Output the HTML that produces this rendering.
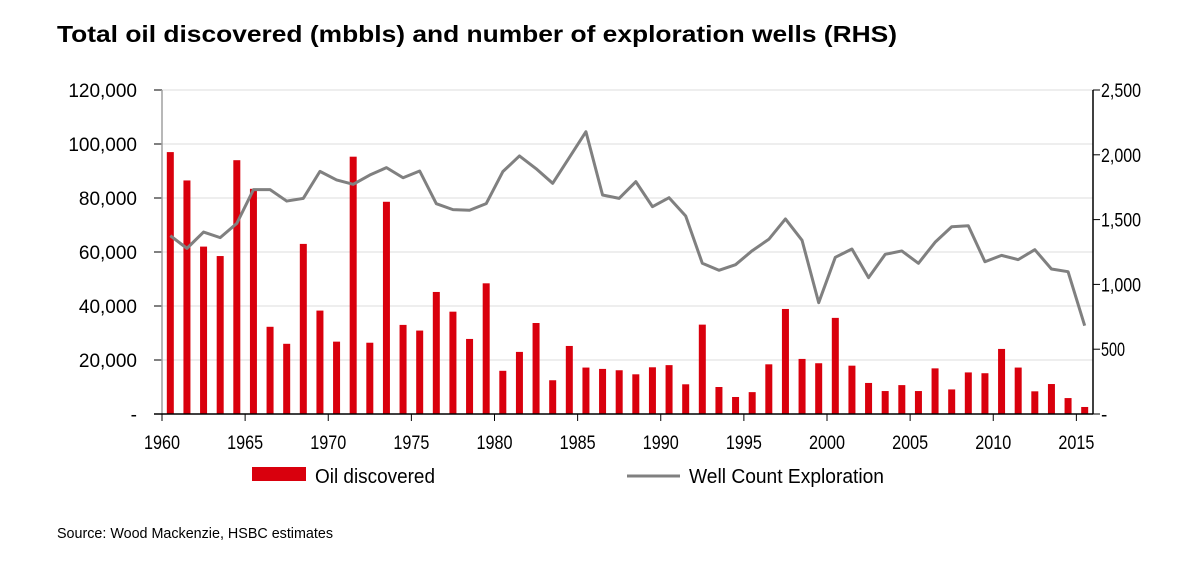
<!DOCTYPE html>
<html><head><meta charset="utf-8"><style>
body{margin:0;background:#fff;width:1200px;height:568px;overflow:hidden}
svg text{font-family:"Liberation Sans Narrow","Liberation Sans",sans-serif}
</style></head><body>
<svg id="c" width="1200" height="568">
<text x="57" y="42" font-size="23" font-weight="bold" fill="#000" textLength="840" lengthAdjust="spacingAndGlyphs" style="font-family:'Liberation Sans',sans-serif">Total oil discovered (mbbls) and number of exploration wells (RHS)</text>
<g id="grid"></g><g id="bars"></g><g id="line"></g><g id="axes"></g>
<g>
<rect x="252" y="467" width="54" height="14" fill="#d9000d"/>
<text x="315" y="483" font-size="20" textLength="120" lengthAdjust="spacingAndGlyphs">Oil discovered</text>
<line x1="627" y1="476" x2="680" y2="476" stroke="#808080" stroke-width="3"/>
<text x="689" y="483" font-size="20" textLength="195" lengthAdjust="spacingAndGlyphs">Well Count Exploration</text>
</g>
<text x="57" y="538" font-size="15" textLength="276" lengthAdjust="spacingAndGlyphs">Source: Wood Mackenzie, HSBC estimates</text>
</svg>
<script>
const years=[];for(let y=1960;y<=2015;y++)years.push(y);
const oil=[97,86.5,62,58.5,94,83.4,32.3,26,63,38.3,26.8,95.3,26.4,78.6,33,30.9,45.2,37.9,27.8,48.4,16,23,33.7,12.5,25.2,17.2,16.7,16.2,14.7,17.3,18.1,11,33.1,10,6.3,8.1,18.4,38.9,20.4,18.8,35.6,17.9,11.5,8.5,10.7,8.5,16.9,9.1,15.4,15.1,24.1,17.2,8.4,11.1,5.9,2.6];
const wells=[1376,1278,1404,1361,1471,1731,1731,1643,1664,1872,1806,1772,1844,1901,1823,1875,1623,1577,1572,1623,1870,1991,1893,1780,1979,2178,1690,1664,1793,1600,1669,1528,1163,1109,1152,1260,1348,1505,1340,859,1209,1273,1052,1232,1258,1163,1325,1445,1453,1175,1224,1191,1268,1119,1098,681];
const leftTicks=["-","20,000","40,000","60,000","80,000","100,000","120,000"];
const rightTicks=["-","500","1,000","1,500","2,000","2,500"];
const xLabels=["1960","1965","1970","1975","1980","1985","1990","1995","2000","2005","2010","2015"];
const NS="http://www.w3.org/2000/svg";
const X0=162,X1=1093,Y0=414,Y1=90,cw=(X1-X0)/years.length;
const yL=v=>Y0-(v*1000)/120000*(Y0-Y1);
const yR=v=>Y0-v/2500*(Y0-Y1);
const xC=i=>X0+cw*(i+0.5);
function mk(t,a,p){const e=document.createElementNS(NS,t);for(const k in a)e.setAttribute(k,a[k]);p.appendChild(e);return e;}
const g=document.getElementById('grid'),b=document.getElementById('bars'),l=document.getElementById('line'),ax=document.getElementById('axes');
leftTicks.forEach((t,i)=>{const y=yL(i*20);
 if(i>0){const gl=mk('line',{x1:X0,x2:X1,y1:y,y2:y,stroke:'#dcdcdc','stroke-width':1},g);
 
 }
 const tk=mk('line',{x1:154,x2:X0,y1:y,y2:y,stroke:'#000'},ax);
 
 
 const tx=mk('text',{x:137,y:y+7,'font-size':19,'text-anchor':'end'},ax);tx.textContent=t;
 
 });
rightTicks.forEach((t,i)=>{const y=yR(i*500);
 const tk=mk('line',{x1:X1,x2:X1+7,y1:y,y2:y,stroke:'#000'},ax);
 
 
 const a={x:1101,y:y+7,'font-size':19};
 if(t.length>1){a.textLength=t.length*8;a.lengthAdjust='spacingAndGlyphs';}
 const tx=mk('text',a,ax);tx.textContent=t;
 
 });
oil.forEach((v,i)=>{const r=mk('rect',{x:xC(i)-3.5,y:yL(v),width:7,height:Y0-yL(v),fill:'#d9000d'},b);
 
 });
const pl=mk('polyline',{points:wells.map((v,i)=>xC(i)+','+yR(v)).join(' '),fill:'none',stroke:'#808080','stroke-width':3,'stroke-linejoin':'round'},l);


const la=mk('line',{x1:X0,x2:X0,y1:Y1,y2:Y0,stroke:'#a0a0a0','stroke-width':1.5},ax);


const ra=mk('line',{x1:X1,x2:X1,y1:Y1,y2:Y0,stroke:'#000','stroke-width':1.5},ax);


const xa=mk('line',{x1:154,x2:X1,y1:Y0,y2:Y0,stroke:'#000','stroke-width':1.5},ax);


xLabels.forEach((t,k)=>{const x=X0+cw*(+t-1960);
 const tk=mk('line',{x1:x,x2:x,y1:Y0,y2:Y0+7,stroke:'#000'},ax);
 
 
 const tx=mk('text',{x:x-18,y:449,'font-size':19,textLength:36,lengthAdjust:'spacingAndGlyphs'},ax);tx.textContent=t;
 
 });
</script>
</body></html>
